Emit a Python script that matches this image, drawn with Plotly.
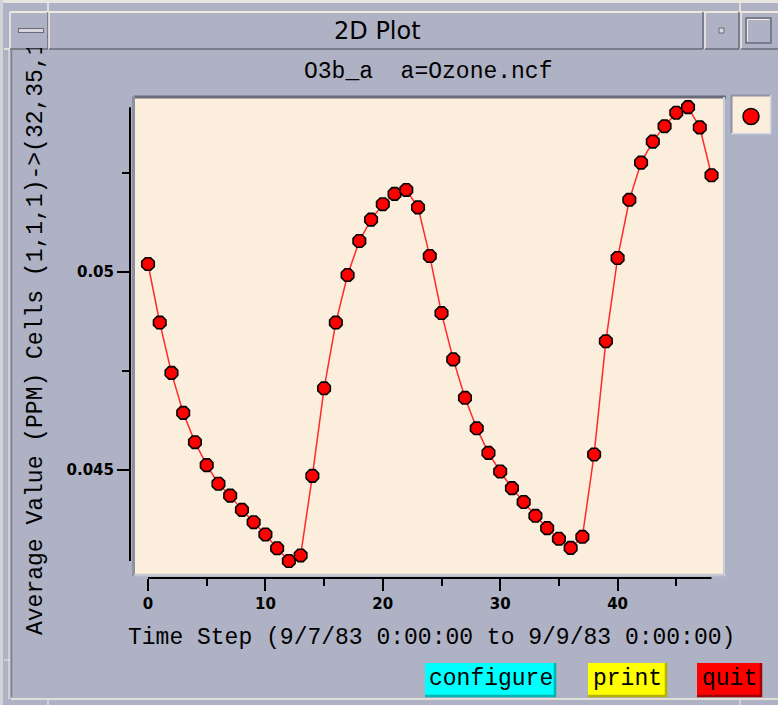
import plotly.graph_objects as go

# ---------------- data ----------------
time_step = list(range(49))
ozone_ppm = [
    0.05019, 0.04871, 0.04744, 0.04643, 0.04569, 0.04511, 0.04464, 0.04434,
    0.04398, 0.04367, 0.04336, 0.04301, 0.04269, 0.04283, 0.04484, 0.04705,
    0.04871, 0.04991, 0.05077, 0.05131, 0.05170, 0.05196, 0.05206, 0.05162,
    0.05039, 0.04895, 0.04778, 0.04681, 0.04604, 0.04542, 0.04495, 0.04453,
    0.04418, 0.04383, 0.04352, 0.04325, 0.04302, 0.04330, 0.04538, 0.04824,
    0.05034, 0.05181, 0.05275, 0.05328, 0.05367, 0.05401, 0.05415, 0.05364,
    0.05243,
]
x_tick_vals = [0, 10, 20, 30, 40]
x_tick_text = ["0", "10", "20", "30", "40"]
x_minor_vals = [5, 15, 25, 35, 45]
y_tick_vals = [0.045, 0.05]
y_tick_text = ["0.045", "0.05"]
y_minor_vals = [0.0475, 0.0525]

window_title = "2D Plot"
sub_title = "O3b_a  a=Ozone.ncf"
x_title = "Time Step (9/7/83 0:00:00 to 9/9/83 0:00:00)"
y_title = "Average Value (PPM) Cells (1,1,1)->(32,35,1)"
buttons = [("configure", "#00FFFF", "#00B4B4"), ("print", "#FFFF00", "#B4B400"), ("quit", "#FF0000", "#A00000")]

# ---------------- layout helpers ----------------
W, H = 778, 705
L, R, T, B = 130, 725, 96, 578
BG = "#AEB2C4"
LIGHT = "#F3ECDF"
DARK = "#686B7A"
PANEL = "#FCEEDC"
MONO = "Liberation Mono, DejaVu Sans Mono, monospace"


def fx(p):
    return (p - L) / (R - L)


def fy(p):
    return (B - p) / (B - T)


shapes = []


def rect(x0, y0, x1, y1, fill, line_color=None, lw=0):
    shapes.append(dict(type="rect", xref="paper", yref="paper",
                       x0=fx(x0), x1=fx(x1), y0=fy(y1), y1=fy(y0),
                       fillcolor=fill, line=dict(width=lw, color=line_color or fill),
                       layer="below"))


def seg(x0, y0, x1, y1, color, lw=1.5):
    shapes.append(dict(type="line", xref="paper", yref="paper",
                       x0=fx(x0), x1=fx(x1), y0=fy(y0), y1=fy(y1),
                       line=dict(color=color, width=lw), layer="below"))


def bevel(x0, y0, x1, y1, tl, br, lw=1.5):
    seg(x0, y0, x1, y0, tl, lw)
    seg(x0, y0, x0, y1, tl, lw)
    seg(x0, y1, x1, y1, br, lw)
    seg(x1, y0, x1, y1, br, lw)


# window frame
rect(0, 0, 778, 3, "#E8E5E0")
rect(0, 0, 3, 705, "#D4D3D8")
seg(10, 12, 778, 12, LIGHT)
bevel(10, 12, 48, 49, LIGHT, DARK)
bevel(49, 12, 703, 49, LIGHT, DARK)
bevel(705, 12, 739, 49, LIGHT, DARK)
bevel(741, 12, 779, 49, LIGHT, DARK)
seg(48, 3, 48, 12, LIGHT)
seg(740, 3, 740, 12, LIGHT)
seg(4, 49, 10, 49, LIGHT)
seg(9, 50, 9, 699, LIGHT, 1)
seg(11.5, 50, 11.5, 697, "#7C7F90", 1.5)
seg(11, 699, 778, 699, LIGHT, 1.5)
seg(4, 660, 10, 660, LIGHT, 1)
seg(48, 699, 48, 705, LIGHT, 1)
seg(740, 699, 740, 705, LIGHT, 1)
rect(719, 28, 724, 33, "#D8D8DE", DARK, 1)
rect(746, 18, 771, 43, BG, DARK, 1.5)
bevel(747.5, 19.5, 769.5, 41.5, LIGHT, BG, 1)

# plot panel (sunken)
rect(135, 96, 725, 575, PANEL)
seg(134, 97, 726, 97, DARK, 3)
seg(133.5, 96, 133.5, 576, "#8D91A2", 3)
seg(724, 97, 724, 576, "#CACCD8", 2)
seg(134, 575, 726, 575, "#C4C6D2", 2.5)

# legend box (sunken)
rect(731, 95, 771, 134, PANEL)
seg(731, 95.5, 771, 95.5, "#8D91A2", 2)
seg(731.5, 95, 731.5, 134, "#8D91A2", 2)
seg(770.5, 95, 770.5, 134, "#D8D9E2", 1.5)
seg(731, 133.5, 771, 133.5, "#D8D9E2", 1.5)

# buttons
btn_boxes = [(425, 663, 556, 697), (588, 663, 667, 697), (697, 663, 762, 697)]
for (label, fill, shade), (bx0, by0, bx1, by1) in zip(buttons, btn_boxes):
    rect(bx0, by0, bx1, by1, fill)
    seg(bx0, by1 - 1, bx1, by1 - 1, shade, 2.5)
    seg(bx1 - 1, by0, bx1 - 1, by1, shade, 2.5)

# axis lines spanning the data extent
shapes.append(dict(type="line", xref="paper", yref="y", x0=0, x1=0,
                   y0=min(ozone_ppm), y1=max(ozone_ppm),
                   line=dict(color="black", width=2)))
shapes.append(dict(type="line", xref="x", yref="paper", x0=time_step[0], x1=time_step[-1],
                   y0=0, y1=0, line=dict(color="black", width=2)))

# ---------------- annotations ----------------
annotations = []


def text(s, x, y, size, family=MONO, color="black", **kw):
    annotations.append(dict(text=s, xref="paper", yref="paper", x=fx(x), y=fy(y),
                            xanchor="center", yanchor="middle", showarrow=False,
                            font=dict(family=family, size=size, color=color), **kw))


text(y_title, 36, 332, 23, textangle=-90)
# left title-bar button covers the overflow of the rotated title
annotations.append(dict(text=" ", xref="paper", yref="paper", x=fx(29.5), y=fy(30.5),
                        xanchor="center", yanchor="middle", showarrow=False,
                        width=35, height=35, bgcolor=BG, borderpad=0, borderwidth=0,
                        font=dict(size=10)))
annotations.append(dict(text=" ", xref="paper", yref="paper", x=fx(30.5), y=fy(30.5),
                        xanchor="center", yanchor="middle", showarrow=False,
                        width=24, height=3, bgcolor="#D6D6DC", bordercolor=DARK,
                        borderpad=0, borderwidth=1, font=dict(size=2)))
text(window_title, 377, 31, 24, family="DejaVu Sans")
text(sub_title, 428, 72, 23)
text(x_title, 431.5, 638, 23)
for (label, fill, shade), (bx0, by0, bx1, by1) in zip(buttons, btn_boxes):
    text(label, (bx0 + bx1) / 2, (by0 + by1) / 2 - 1, 23)

# ---------------- traces ----------------
fig = go.Figure()
fig.add_trace(go.Scatter(
    x=time_step, y=ozone_ppm, mode="lines+markers", showlegend=False,
    line=dict(color="#FF2A2A", width=1.5),
    marker=dict(symbol="octagon", size=13.5, color="#FF0000",
                line=dict(color="black", width=1.6)),
))
fig.add_trace(go.Scatter(
    x=[None], y=[None], mode="markers", name="", showlegend=True,
    marker=dict(symbol="circle", size=19, color="#FF0000",
                line=dict(color="black", width=1.5)),
))

tickfont = dict(family="DejaVu Sans", size=15, color="black", weight="bold")
fig.update_layout(
    width=W, height=H,
    margin=dict(l=L, r=W - R, t=T, b=H - B, pad=0, autoexpand=False),
    paper_bgcolor=BG, plot_bgcolor="rgba(0,0,0,0)",
    shapes=shapes, annotations=annotations,
    showlegend=True,
    legend=dict(x=fx(731), y=fy(102), xanchor="left", yanchor="top",
                bgcolor="rgba(0,0,0,0)", borderwidth=0, itemsizing="trace",
                itemwidth=30, font=dict(size=2)),
    xaxis=dict(range=[(L - 148) / 11.74, (R - 148) / 11.74],
               tickvals=x_tick_vals, ticktext=x_tick_text,
               ticks="outside", ticklen=12, tickwidth=2, tickcolor="black",
               tickfont=tickfont, showgrid=False, zeroline=False, showline=False,
               minor=dict(tickvals=x_minor_vals, ticks="outside", ticklen=7,
                          tickwidth=2, tickcolor="black", showgrid=False)),
    yaxis=dict(range=[0.05 - (B - 271.5) / 39600, 0.05 + (271.5 - T) / 39600],
               tickvals=y_tick_vals, ticktext=y_tick_text,
               ticks="outside", ticklen=12, tickwidth=2, tickcolor="black",
               tickfont=tickfont, showgrid=False, zeroline=False, showline=False,
               minor=dict(tickvals=y_minor_vals, ticks="outside", ticklen=7,
                          tickwidth=2, tickcolor="black", showgrid=False)),
)

fig.write_html("out.html", config={"displayModeBar": False},
               post_script="document.body.style.margin='0';")
